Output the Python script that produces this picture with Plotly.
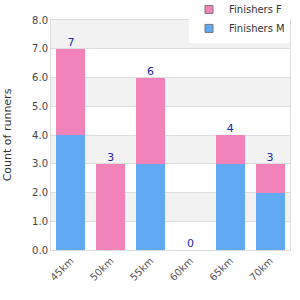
import plotly.graph_objects as go

categories = ["45km", "50km", "55km", "60km", "65km", "70km"]
finishers_m = [4, 0, 3, 0, 3, 2]
finishers_f = [3, 3, 3, 0, 1, 1]
totals = [m + f for m, f in zip(finishers_m, finishers_f)]
y_ticks = [0, 1, 2, 3, 4, 5, 6, 7, 8]

blue = "#62a9f3"
pink = "#f283ba"

fig = go.Figure()
fig.add_trace(go.Bar(x=categories, y=finishers_m, name="Finishers M",
                     marker=dict(color=blue, line=dict(width=0)), showlegend=False))
fig.add_trace(go.Bar(x=categories, y=finishers_f, name="Finishers F",
                     marker=dict(color=pink, line=dict(width=0)), showlegend=False))
fig.add_trace(go.Scatter(x=categories, y=totals, mode="text",
                         text=[str(t) for t in totals], textposition="top center",
                         textfont=dict(color="#2323a0", size=11, family="DejaVu Sans"),
                         showlegend=False, hoverinfo="skip"))
# legend entries
fig.add_trace(go.Scatter(x=[None], y=[None], mode="markers", name="Finishers F",
                         marker=dict(symbol="square", size=8, color=pink,
                                     line=dict(color="#777", width=1))))
fig.add_trace(go.Scatter(x=[None], y=[None], mode="markers", name="Finishers M",
                         marker=dict(symbol="square", size=8, color=blue,
                                     line=dict(color="#777", width=1))))

shapes = []
for lo in y_ticks[1:-1:2]:
    shapes.append(dict(type="rect", xref="paper", yref="y", x0=0, x1=1,
                       y0=lo, y1=lo + 1, fillcolor="#f2f2f2",
                       line=dict(width=0), layer="below"))

fig.update_layout(
    width=300, height=300,
    margin=dict(l=51, r=10, t=20, b=50, autoexpand=False),
    barmode="stack", bargap=0.275,
    plot_bgcolor="white", paper_bgcolor="white",
    font=dict(family="DejaVu Sans", size=10, color="#444"),
    shapes=shapes,
    legend=dict(x=1, xanchor="right", y=1.109, yanchor="top",
                bgcolor="white", traceorder="normal",
                font=dict(size=10, color="#333"),
                tracegroupgap=0, borderwidth=0),
    xaxis=dict(type="category", tickangle=-45, showgrid=False,
               showline=True, linecolor="#dddddd", mirror=True,
               ticks="", tickfont=dict(size=10, color="#555")),
    yaxis=dict(range=[0, 8], tickvals=y_ticks,
               ticktext=[f"{v:.1f}" for v in y_ticks],
               showgrid=True, gridcolor="#dddddd", gridwidth=1,
               showline=True, linecolor="#dddddd", mirror=True,
               zeroline=False, ticks="",
               tickfont=dict(size=10, color="#444"),
               title=dict(text="Count of runners", font=dict(size=11, color="#333"),
                          standoff=18)),
)

fig.write_html("out.html")
